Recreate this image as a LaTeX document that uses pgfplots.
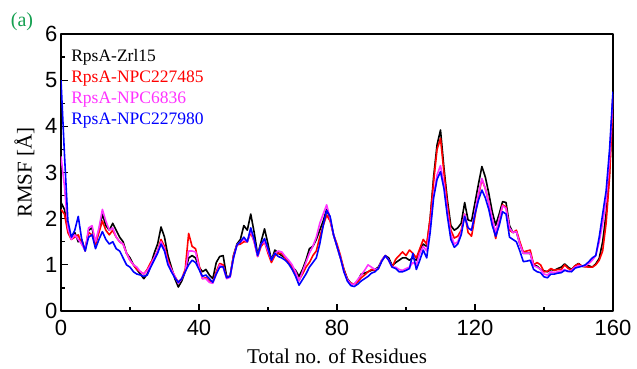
\documentclass[border=0pt]{standalone}
\usepackage{fontspec}
\setmainfont{Liberation Serif}
\newfontfamily\arialf{Liberation Sans}
\usepackage{pgfplots}
\usepackage{pgfplotstable}
\pgfplotsset{compat=1.18}
\definecolor{cmag}{RGB}{255,50,255}
\definecolor{cgreen}{RGB}{20,160,80}

\pgfplotstableread{
r B R M U
0 2.35 2.20 3.35 5.00
1 2.20 2.10 2.70 3.40
2 1.75 1.70 1.80 1.95
3 1.60 1.55 1.55 1.60
4 1.70 1.60 1.65 1.75
5 1.50 1.65 1.55 2.05
6 1.55 1.45 1.45 1.55
7 1.30 1.35 1.30 1.30
8 1.75 1.70 1.80 1.60
9 1.80 1.65 1.85 1.65
10 1.45 1.45 1.50 1.35
11 1.75 1.70 1.80 1.55
12 2.10 1.95 2.20 1.72
13 1.85 1.75 1.95 1.55
14 1.75 1.65 1.75 1.45
15 1.90 1.75 1.80 1.50
16 1.75 1.60 1.60 1.35
17 1.60 1.50 1.50 1.30
18 1.50 1.45 1.45 1.15
19 1.25 1.25 1.25 1.00
20 1.15 1.10 1.10 0.95
21 1.00 1.00 1.00 0.85
22 0.90 0.90 0.95 0.80
23 0.80 0.85 0.85 0.78
24 0.70 0.80 0.80 0.75
25 0.80 0.90 0.88 0.78
26 1.00 1.05 1.00 0.95
27 1.25 1.15 1.15 1.10
28 1.45 1.30 1.30 1.25
29 1.82 1.55 1.50 1.45
30 1.60 1.40 1.35 1.30
31 1.20 1.10 1.05 1.00
32 0.95 0.90 0.90 0.85
33 0.70 0.75 0.75 0.72
34 0.52 0.62 0.60 0.62
35 0.65 0.70 0.70 0.70
36 0.85 0.90 0.85 0.85
37 1.15 1.68 1.30 1.00
38 1.20 1.40 1.30 1.10
39 1.15 1.35 1.28 1.05
40 0.95 1.00 0.95 0.90
41 0.85 0.70 0.70 0.75
42 0.90 0.72 0.70 0.78
43 0.78 0.65 0.62 0.70
44 0.70 0.62 0.60 0.62
45 1.05 0.85 0.80 0.80
46 1.18 1.03 1.00 0.95
47 1.20 1.00 0.95 0.96
48 0.75 0.72 0.70 0.72
49 0.75 0.75 0.73 0.75
50 1.20 1.20 1.15 1.15
51 1.45 1.43 1.43 1.43
52 1.55 1.45 1.50 1.50
53 1.85 1.50 1.55 1.60
54 1.75 1.50 1.50 1.50
55 2.10 1.70 1.75 1.80
56 1.70 1.50 1.50 1.55
57 1.22 1.18 1.18 1.20
58 1.50 1.40 1.45 1.45
59 1.78 1.50 1.50 1.57
60 1.45 1.25 1.30 1.35
61 1.10 1.05 1.10 1.10
62 1.32 1.20 1.25 1.25
63 1.25 1.25 1.30 1.18
64 1.20 1.25 1.28 1.15
65 1.15 1.15 1.18 1.10
66 1.05 1.05 1.10 1.02
67 0.95 0.95 1.00 0.90
68 0.88 0.82 0.85 0.75
69 0.75 0.67 0.65 0.56
70 0.90 0.80 0.85 0.68
71 1.10 0.95 1.05 0.80
72 1.35 1.05 1.25 0.95
73 1.40 1.20 1.40 1.05
74 1.55 1.30 1.60 1.15
75 1.75 1.60 1.90 1.45
76 1.95 1.85 2.10 1.85
77 2.20 2.08 2.30 2.18
78 2.00 1.95 2.00 2.05
79 1.65 1.65 1.65 1.65
80 1.40 1.45 1.40 1.40
81 1.15 1.20 1.15 1.15
82 0.90 0.90 0.85 0.85
83 0.70 0.68 0.68 0.65
84 0.60 0.60 0.58 0.55
85 0.58 0.58 0.58 0.53
86 0.65 0.63 0.68 0.58
87 0.80 0.72 0.78 0.65
88 0.82 0.78 0.88 0.70
89 0.85 0.85 1.00 0.75
90 0.88 0.90 0.95 0.82
91 0.90 0.88 0.90 0.85
92 0.95 0.92 0.92 0.92
93 1.10 1.10 1.10 1.08
94 1.20 1.20 1.20 1.20
95 1.15 1.10 1.10 1.10
96 0.98 0.95 0.95 0.95
97 1.05 1.12 0.95 0.92
98 1.10 1.20 0.90 0.85
99 1.15 1.28 0.88 0.85
100 1.15 1.20 0.92 0.88
101 1.10 1.32 0.95 0.92
102 1.15 1.25 1.05 1.25
103 1.10 1.15 1.00 0.90
104 1.30 1.35 1.25 1.10
105 1.45 1.55 1.40 1.32
106 1.40 1.45 1.30 1.15
107 2.00 2.00 1.80 1.70
108 2.90 2.80 2.50 2.45
109 3.60 3.50 2.95 2.85
110 3.92 3.74 3.15 3.02
111 3.10 3.00 2.75 2.65
112 2.40 2.30 2.15 2.05
113 1.85 1.75 1.65 1.55
114 1.75 1.58 1.45 1.38
115 1.80 1.62 1.50 1.45
116 1.90 1.75 1.70 1.65
117 2.35 2.10 2.10 2.05
118 1.97 1.70 1.80 1.80
119 1.95 1.62 1.75 1.75
120 2.35 2.05 2.15 2.10
121 2.75 2.50 2.55 2.40
122 3.13 2.85 2.87 2.62
123 2.90 2.65 2.65 2.45
124 2.55 2.35 2.35 2.20
125 2.15 1.95 2.00 1.85
126 1.86 1.57 1.70 1.62
127 2.10 1.95 2.00 1.85
128 2.37 2.30 2.28 2.15
129 2.35 2.25 2.22 2.10
130 1.85 1.75 1.80 1.60
131 1.70 1.70 1.70 1.55
132 1.72 1.75 1.72 1.50
133 1.45 1.50 1.45 1.30
134 1.25 1.28 1.25 1.07
135 1.25 1.30 1.25 1.08
136 1.25 1.32 1.25 1.10
137 1.00 1.00 0.98 0.90
138 0.97 1.05 0.95 0.85
139 0.90 1.00 0.90 0.83
140 0.87 0.85 0.80 0.74
141 0.85 0.86 0.78 0.72
142 0.90 0.92 0.85 0.80
143 0.88 0.88 0.83 0.80
144 0.92 0.90 0.85 0.82
145 0.95 0.90 0.87 0.83
146 1.02 1.00 0.90 0.88
147 0.95 0.92 0.85 0.86
148 0.90 0.89 0.88 0.85
149 0.98 0.98 0.95 0.93
150 1.03 1.02 0.98 0.95
151 0.97 0.97 0.97 0.97
152 0.96 0.96 0.98 1.00
153 0.98 0.95 1.03 1.07
154 0.95 0.95 1.10 1.15
155 1.02 1.00 1.20 1.20
156 1.14 1.10 1.50 1.60
157 1.50 1.30 1.90 2.10
158 2.10 1.90 2.40 2.60
159 3.00 2.90 3.30 3.50
160 4.70 4.60 4.70 4.75
}\rmsf

\begin{document}
\begin{tikzpicture}
\useasboundingbox (-61pt,-57pt) rectangle (576pt,311pt);
\begin{axis}[
  scale only axis,
  width=552pt, height=277pt,
  xmin=0, xmax=160, ymin=0, ymax=6,
  xtick={0,40,80,120,160},
  ytick={0,1,2,3,4,5,6},
  minor x tick num=1,
  minor y tick num=1,
  xtick pos=bottom, ytick pos=left,
  tick align=inside,
  major tick length=7pt,
  minor tick length=4pt,
  every tick/.style={black, line width=1.2pt},
  axis line style={line width=1.5pt},
  /pgf/number format/assume math mode=true,
  tick label style={font=\arialf\fontsize{22}{22}\selectfont},
  xticklabel style={yshift=-6pt},
  xlabel={Total no. of Residues},
  ylabel={RMSF [Å]},
  label style={font=\fontsize{21}{21}\selectfont},
  xlabel style={yshift=-6pt},
  ylabel style={yshift=4pt},
  legend style={at={(axis description cs:0.012,0.955)}, anchor=north west,
    draw=none, fill=none, font=\fontsize{17.5}{17.5}\selectfont,
    row sep=7pt, nodes={inner sep=0.5pt}},
  legend cell align=left,
  legend image code/.code={},
  line join=round,
]
\addplot[black, line width=1.6pt] table[x=r, y=B] {\rmsf};
\addlegendentry{\textcolor{black}{RpsA-Zrl15}}
\addplot[red, line width=1.6pt] table[x=r, y=R] {\rmsf};
\addlegendentry{\textcolor{red}{RpsA-NPC227485}}
\addplot[cmag, line width=1.6pt] table[x=r, y=M] {\rmsf};
\addlegendentry{\textcolor{cmag}{RpsA-NPC6836}}
\addplot[blue, line width=1.6pt] table[x=r, y=U] {\rmsf};
\addlegendentry{\textcolor{blue}{RpsA-NPC227980}}
\end{axis}
\node[text=cgreen, font=\fontsize{20}{20}\selectfont] at (-39pt,289pt) {(a)};
\end{tikzpicture}
\end{document}
